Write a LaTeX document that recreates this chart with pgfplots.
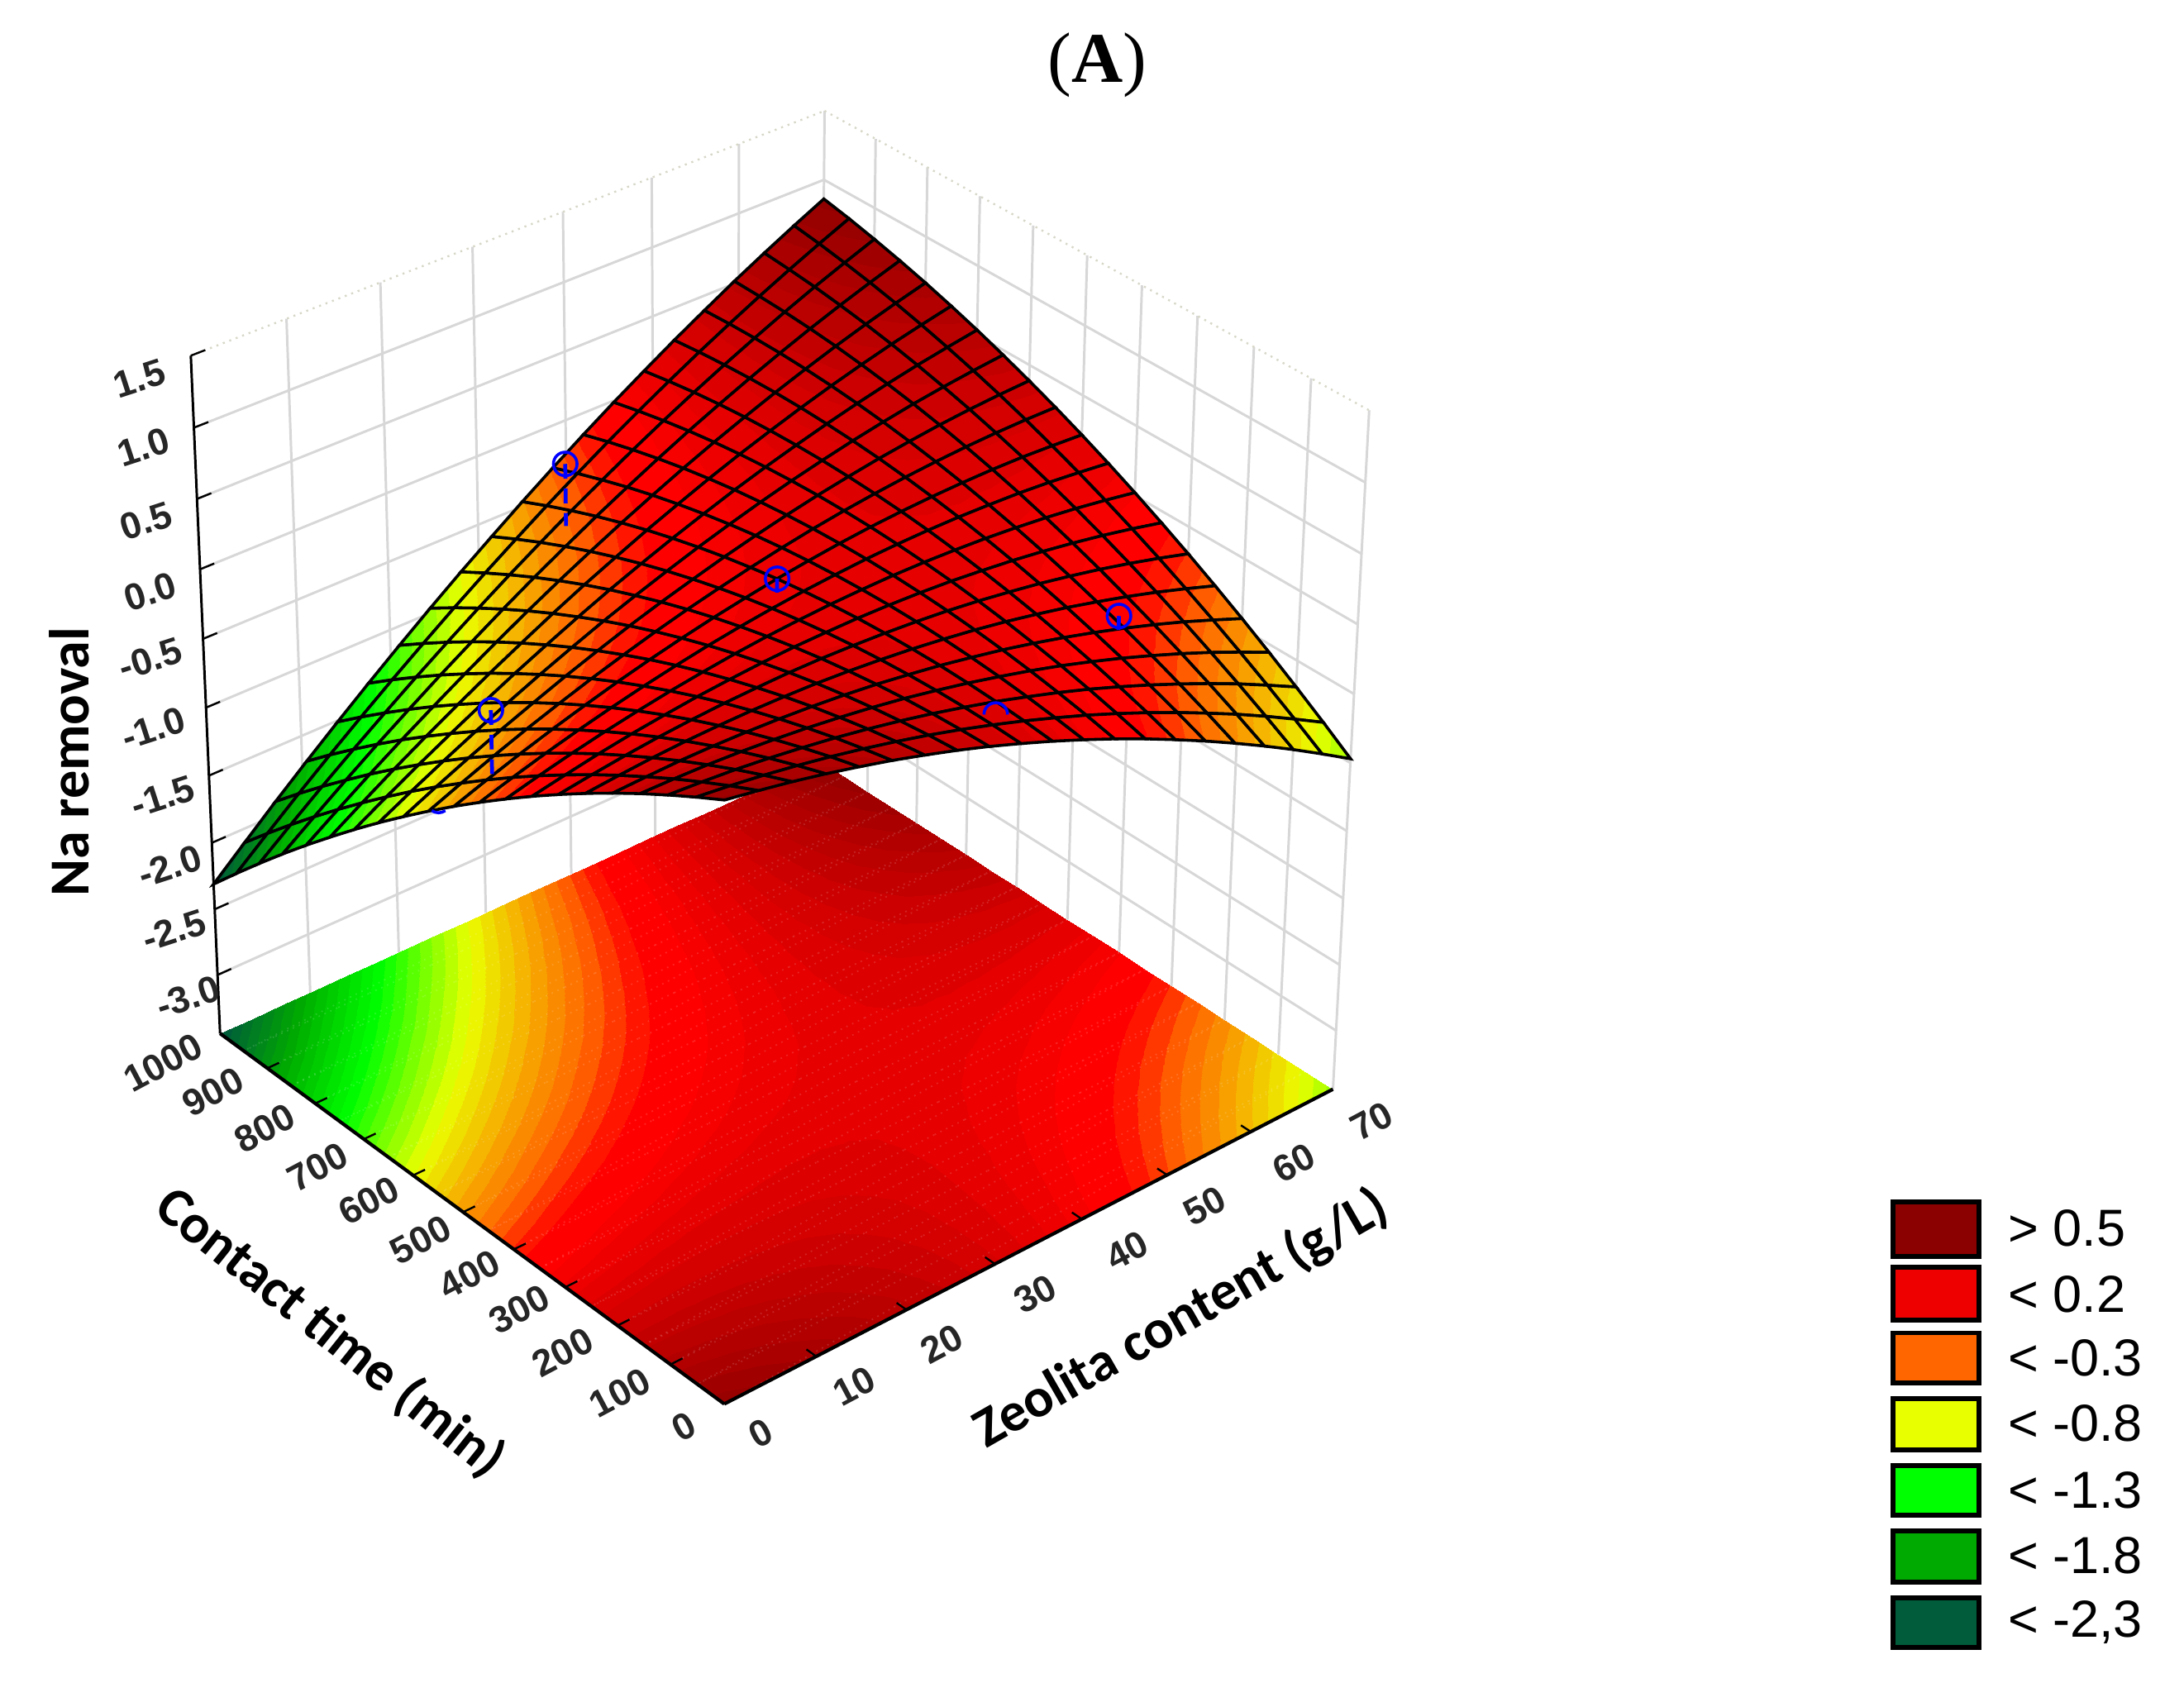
\documentclass[border=0pt]{standalone}
\usepackage{fontspec}
\setmainfont{Liberation Sans}
\newfontfamily\serifA{Liberation Serif}
\newfontfamily\calib{Carlito}
\usepackage{pgfplots}
\usepackage{pgfplotstable}
\pgfplotsset{compat=1.18}
% Response surface: Zeolita content (x), Contact time (y), Na removal (z)
\pgfplotstableread[row sep=crcr]{
x y z\\
0 1000 -2.310\\ 3.5 1000 -2.103\\ 7 1000 -1.899\\ 10.5 1000 -1.702\\ 14 1000 -1.510\\ 17.5 1000 -1.323\\ 21 1000 -1.141\\ 24.5 1000 -0.964\\ 28 1000 -0.792\\ 31.5 1000 -0.627\\ 35 1000 -0.465\\ 38.5 1000 -0.309\\ 42 1000 -0.158\\ 45.5 1000 -0.012\\ 49 1000 0.127\\ 52.5 1000 0.263\\ 56 1000 0.392\\ 59.5 1000 0.518\\ 63 1000 0.637\\ 66.5 1000 0.751\\ 70 1000 0.860\\
0 950 -2.103\\ 3.5 950 -1.908\\ 7 950 -1.716\\ 10.5 950 -1.531\\ 14 950 -1.352\\ 17.5 950 -1.177\\ 21 950 -1.008\\ 24.5 950 -0.843\\ 28 950 -0.684\\ 31.5 950 -0.531\\ 35 950 -0.381\\ 38.5 950 -0.238\\ 42 950 -0.099\\ 45.5 950 0.034\\ 49 950 0.161\\ 52.5 950 0.284\\ 56 950 0.401\\ 59.5 950 0.514\\ 63 950 0.621\\ 66.5 950 0.723\\ 70 950 0.820\\
0 900 -1.901\\ 3.5 900 -1.718\\ 7 900 -1.539\\ 10.5 900 -1.367\\ 14 900 -1.200\\ 17.5 900 -1.037\\ 21 900 -0.880\\ 24.5 900 -0.728\\ 28 900 -0.581\\ 31.5 900 -0.440\\ 35 900 -0.303\\ 38.5 900 -0.173\\ 42 900 -0.046\\ 45.5 900 0.075\\ 49 900 0.190\\ 52.5 900 0.300\\ 56 900 0.405\\ 59.5 900 0.506\\ 63 900 0.601\\ 66.5 900 0.689\\ 70 900 0.774\\
0 850 -1.704\\ 3.5 850 -1.534\\ 7 850 -1.368\\ 10.5 850 -1.207\\ 14 850 -1.053\\ 17.5 850 -0.902\\ 21 850 -0.758\\ 24.5 850 -0.618\\ 28 850 -0.483\\ 31.5 850 -0.355\\ 35 850 -0.230\\ 38.5 850 -0.112\\ 42 850 0.002\\ 45.5 850 0.111\\ 49 850 0.213\\ 52.5 850 0.311\\ 56 850 0.404\\ 59.5 850 0.492\\ 63 850 0.574\\ 66.5 850 0.651\\ 70 850 0.723\\
0 800 -1.513\\ 3.5 800 -1.355\\ 7 800 -1.201\\ 10.5 800 -1.053\\ 14 800 -0.911\\ 17.5 800 -0.773\\ 21 800 -0.641\\ 24.5 800 -0.513\\ 28 800 -0.391\\ 31.5 800 -0.275\\ 35 800 -0.163\\ 38.5 800 -0.057\\ 42 800 0.045\\ 45.5 800 0.141\\ 49 800 0.231\\ 52.5 800 0.317\\ 56 800 0.397\\ 59.5 800 0.473\\ 63 800 0.543\\ 66.5 800 0.607\\ 70 800 0.667\\
0 750 -1.328\\ 3.5 750 -1.182\\ 7 750 -1.040\\ 10.5 750 -0.905\\ 14 750 -0.775\\ 17.5 750 -0.649\\ 21 750 -0.530\\ 24.5 750 -0.414\\ 28 750 -0.304\\ 31.5 750 -0.201\\ 35 750 -0.101\\ 38.5 750 -0.008\\ 42 750 0.082\\ 45.5 750 0.166\\ 49 750 0.243\\ 52.5 750 0.317\\ 56 750 0.385\\ 59.5 750 0.448\\ 63 750 0.506\\ 66.5 750 0.557\\ 70 750 0.605\\
0 700 -1.147\\ 3.5 700 -1.014\\ 7 700 -0.885\\ 10.5 700 -0.762\\ 14 700 -0.644\\ 17.5 700 -0.531\\ 21 700 -0.424\\ 24.5 700 -0.321\\ 28 700 -0.223\\ 31.5 700 -0.132\\ 35 700 -0.045\\ 38.5 700 0.036\\ 42 700 0.114\\ 45.5 700 0.185\\ 49 700 0.250\\ 52.5 700 0.311\\ 56 700 0.367\\ 59.5 700 0.418\\ 63 700 0.463\\ 66.5 700 0.502\\ 70 700 0.538\\
0 650 -0.972\\ 3.5 650 -0.851\\ 7 650 -0.735\\ 10.5 650 -0.624\\ 14 650 -0.519\\ 17.5 650 -0.418\\ 21 650 -0.323\\ 24.5 650 -0.232\\ 28 650 -0.148\\ 31.5 650 -0.069\\ 35 650 0.006\\ 38.5 650 0.075\\ 42 650 0.140\\ 45.5 650 0.199\\ 49 650 0.252\\ 52.5 650 0.301\\ 56 650 0.344\\ 59.5 650 0.383\\ 63 650 0.415\\ 66.5 650 0.442\\ 70 650 0.465\\
0 600 -0.803\\ 3.5 600 -0.694\\ 7 600 -0.590\\ 10.5 600 -0.491\\ 14 600 -0.399\\ 17.5 600 -0.310\\ 21 600 -0.228\\ 24.5 600 -0.149\\ 28 600 -0.077\\ 31.5 600 -0.011\\ 35 600 0.052\\ 38.5 600 0.109\\ 42 600 0.161\\ 45.5 600 0.208\\ 49 600 0.248\\ 52.5 600 0.285\\ 56 600 0.315\\ 59.5 600 0.342\\ 63 600 0.362\\ 66.5 600 0.377\\ 70 600 0.387\\
0 550 -0.639\\ 3.5 550 -0.543\\ 7 550 -0.451\\ 10.5 550 -0.364\\ 14 550 -0.284\\ 17.5 550 -0.208\\ 21 550 -0.138\\ 24.5 550 -0.072\\ 28 550 -0.012\\ 31.5 550 0.042\\ 35 550 0.092\\ 38.5 550 0.137\\ 42 550 0.177\\ 45.5 550 0.211\\ 49 550 0.239\\ 52.5 550 0.263\\ 56 550 0.281\\ 59.5 550 0.295\\ 63 550 0.303\\ 66.5 550 0.306\\ 70 550 0.304\\
0 500 -0.480\\ 3.5 500 -0.396\\ 7 500 -0.317\\ 10.5 500 -0.243\\ 14 500 -0.175\\ 17.5 500 -0.111\\ 21 500 -0.053\\ 24.5 500 0.000\\ 28 500 0.048\\ 31.5 500 0.090\\ 35 500 0.128\\ 38.5 500 0.159\\ 42 500 0.187\\ 45.5 500 0.209\\ 49 500 0.225\\ 52.5 500 0.236\\ 56 500 0.242\\ 59.5 500 0.244\\ 63 500 0.240\\ 66.5 500 0.229\\ 70 500 0.215\\
0 450 -0.327\\ 3.5 450 -0.255\\ 7 450 -0.188\\ 10.5 450 -0.127\\ 14 450 -0.071\\ 17.5 450 -0.020\\ 21 450 0.026\\ 24.5 450 0.067\\ 28 450 0.102\\ 31.5 450 0.132\\ 35 450 0.157\\ 38.5 450 0.176\\ 42 450 0.192\\ 45.5 450 0.201\\ 49 450 0.205\\ 52.5 450 0.204\\ 56 450 0.197\\ 59.5 450 0.187\\ 63 450 0.170\\ 66.5 450 0.147\\ 70 450 0.121\\
0 400 -0.179\\ 3.5 400 -0.120\\ 7 400 -0.065\\ 10.5 400 -0.016\\ 14 400 0.027\\ 17.5 400 0.066\\ 21 400 0.099\\ 24.5 400 0.128\\ 28 400 0.151\\ 31.5 400 0.168\\ 35 400 0.181\\ 38.5 400 0.188\\ 42 400 0.191\\ 45.5 400 0.188\\ 49 400 0.179\\ 52.5 400 0.166\\ 56 400 0.147\\ 59.5 400 0.124\\ 63 400 0.095\\ 66.5 400 0.060\\ 70 400 0.021\\
0 350 -0.036\\ 3.5 350 0.010\\ 7 350 0.053\\ 10.5 350 0.090\\ 14 350 0.120\\ 17.5 350 0.147\\ 21 350 0.167\\ 24.5 350 0.184\\ 28 350 0.195\\ 31.5 350 0.199\\ 35 350 0.200\\ 38.5 350 0.195\\ 42 350 0.185\\ 45.5 350 0.170\\ 49 350 0.148\\ 52.5 350 0.123\\ 56 350 0.092\\ 59.5 350 0.056\\ 63 350 0.015\\ 66.5 350 -0.032\\ 70 350 -0.084\\
0 300 0.101\\ 3.5 300 0.135\\ 7 300 0.165\\ 10.5 300 0.190\\ 14 300 0.208\\ 17.5 300 0.222\\ 21 300 0.230\\ 24.5 300 0.235\\ 28 300 0.233\\ 31.5 300 0.225\\ 35 300 0.213\\ 38.5 300 0.196\\ 42 300 0.174\\ 45.5 300 0.146\\ 49 300 0.112\\ 52.5 300 0.075\\ 56 300 0.031\\ 59.5 300 -0.017\\ 63 300 -0.071\\ 66.5 300 -0.130\\ 70 300 -0.194\\
0 250 0.233\\ 3.5 250 0.254\\ 7 250 0.272\\ 10.5 250 0.284\\ 14 250 0.290\\ 17.5 250 0.292\\ 21 250 0.288\\ 24.5 250 0.280\\ 28 250 0.265\\ 31.5 250 0.245\\ 35 250 0.221\\ 38.5 250 0.191\\ 42 250 0.157\\ 45.5 250 0.117\\ 49 250 0.071\\ 52.5 250 0.021\\ 56 250 -0.036\\ 59.5 250 -0.096\\ 63 250 -0.162\\ 66.5 250 -0.234\\ 70 250 -0.310\\
0 200 0.359\\ 3.5 200 0.368\\ 7 200 0.374\\ 10.5 200 0.373\\ 14 200 0.367\\ 17.5 200 0.356\\ 21 200 0.340\\ 24.5 200 0.319\\ 28 200 0.293\\ 31.5 200 0.260\\ 35 200 0.224\\ 38.5 200 0.181\\ 42 200 0.135\\ 45.5 200 0.082\\ 49 200 0.024\\ 52.5 200 -0.039\\ 56 200 -0.107\\ 59.5 200 -0.180\\ 63 200 -0.258\\ 66.5 200 -0.343\\ 70 200 -0.431\\
0 150 0.480\\ 3.5 150 0.477\\ 7 150 0.470\\ 10.5 150 0.457\\ 14 150 0.438\\ 17.5 150 0.415\\ 21 150 0.386\\ 24.5 150 0.353\\ 28 150 0.315\\ 31.5 150 0.270\\ 35 150 0.221\\ 38.5 150 0.166\\ 42 150 0.107\\ 45.5 150 0.043\\ 49 150 -0.028\\ 52.5 150 -0.103\\ 56 150 -0.184\\ 59.5 150 -0.269\\ 63 150 -0.360\\ 66.5 150 -0.457\\ 70 150 -0.558\\
0 100 0.595\\ 3.5 100 0.580\\ 7 100 0.561\\ 10.5 100 0.535\\ 14 100 0.504\\ 17.5 100 0.469\\ 21 100 0.428\\ 24.5 100 0.382\\ 28 100 0.331\\ 31.5 100 0.274\\ 35 100 0.213\\ 38.5 100 0.145\\ 42 100 0.074\\ 45.5 100 -0.003\\ 49 100 -0.086\\ 52.5 100 -0.174\\ 56 100 -0.267\\ 59.5 100 -0.364\\ 63 100 -0.467\\ 66.5 100 -0.577\\ 70 100 -0.690\\
0 50 0.705\\ 3.5 50 0.678\\ 7 50 0.646\\ 10.5 50 0.608\\ 14 50 0.565\\ 17.5 50 0.517\\ 21 50 0.464\\ 24.5 50 0.406\\ 28 50 0.342\\ 31.5 50 0.273\\ 35 50 0.199\\ 38.5 50 0.119\\ 42 50 0.036\\ 45.5 50 -0.054\\ 49 50 -0.149\\ 52.5 50 -0.249\\ 56 50 -0.355\\ 59.5 50 -0.464\\ 63 50 -0.580\\ 66.5 50 -0.702\\ 70 50 -0.827\\
0 0 0.810\\ 3.5 0 0.770\\ 7 0 0.726\\ 10.5 0 0.676\\ 14 0 0.620\\ 17.5 0 0.560\\ 21 0 0.494\\ 24.5 0 0.424\\ 28 0 0.348\\ 31.5 0 0.266\\ 35 0 0.180\\ 38.5 0 0.088\\ 42 0 -0.008\\ 45.5 0 -0.110\\ 49 0 -0.218\\ 52.5 0 -0.330\\ 56 0 -0.448\\ 59.5 0 -0.570\\ 63 0 -0.698\\ 66.5 0 -0.832\\ 70 0 -0.970\\
}\surfdata
\pgfplotsset{
  /pgf/declare function={
    PX(\a,\b,\c)=(520+501.88*\a/70-350.26*\b/1000-30.72*(\c+3.45)/4.95)/(1+.0678*\a/70+.0743*\b/1000-.0595*(\c+3.45)/4.95);
    PY(\a,\b,\c)=(1008-172.98*\a/70-210.87*\b/1000-538*(\c+3.45)/4.95)/(1+.0678*\a/70+.0743*\b/1000-.0595*(\c+3.45)/4.95);
  },
  table/proj/.style={x expr={PX(\thisrow{x},\thisrow{y},\thisrow{z})},y expr={PY(\thisrow{x},\thisrow{y},\thisrow{z})}},
  table/projfloor/.style={x expr={PX(\thisrow{x},\thisrow{y},-3.45)},y expr={PY(\thisrow{x},\thisrow{y},-3.45)}},
  colormap={naraw}{rgb255(0cm)=(0,84,56) rgb255(2cm)=(0,92,58) rgb255(7cm)=(0,170,0) rgb255(12cm)=(0,255,0) rgb255(17cm)=(235,255,0) rgb255(22cm)=(255,102,0) rgb255(24cm)=(255,0,0) rgb255(25cm)=(255,0,0) rgb255(34cm)=(144,0,0)},
  colormap={nabands}{samples of colormap=(50 of naraw)},
  colormap={whitemap}{color=(white) color=(white)},
}
\definecolor{gridc}{RGB}{215,215,215}
\definecolor{dotc}{RGB}{215,215,200}
\definecolor{lega}{RGB}{139,0,0}\definecolor{legb}{RGB}{238,0,0}\definecolor{legc}{RGB}{255,102,0}\definecolor{legd}{RGB}{232,255,0}\definecolor{lege}{RGB}{0,255,0}\definecolor{legf}{RGB}{0,170,0}\definecolor{legg}{RGB}{0,92,58}
\newcommand\gseg[3][]{\addplot[mark=none,#1] table[proj,row sep=crcr]{x y z\\#2\\#3\\};}
\tikzset{tkl/.style={font=\fontsize{7.6}{8}\selectfont\bfseries,inner sep=0pt,color=black!85}}
\newcommand\tklab[4]{\node[tkl,rotate=#1] at (axis cs:#2,#3) {#4};}
\newcommand\legbox[5]{\draw[line width=1pt,fill=#1] (axis cs:1359,#2) rectangle (axis cs:1421,#3);
  \node[anchor=west,inner sep=0pt,font=\fontsize{10.6}{12}\selectfont] at (axis cs:1441,#4) {#5};}
\pgfdeclareplotmark{uparc}{\pgfpathmoveto{\pgfqpoint{\pgfplotmarksize}{0pt}}\pgfpatharc{0}{180}{\pgfplotmarksize}\pgfusepathqstroke}
\pgfdeclareplotmark{lowarc}{\pgfpathmoveto{\pgfpointpolar{-125}{\pgfplotmarksize}}\pgfpatharc{-125}{-55}{\pgfplotmarksize}\pgfusepathqstroke}
\begin{document}
\begin{tikzpicture}
\path[use as bounding box] (0,0) rectangle (444.5pt,342.45pt);
\begin{axis}[
  anchor=south west, at={(0,0)},
  scale only axis, width=444.5pt, height=342.45pt,
  xmin=0, xmax=1568, ymin=0, ymax=1208, y dir=reverse,
  hide axis, clip=false, enlargelimits=false,
  colormap name=nabands, point meta min=-2.5, point meta max=0.9,
]
% walls
\pgfplotsinvokeforeach{10,20,30,40,50,60}{\gseg[gridc,line width=.5pt]{#1 1000 -3.45}{#1 1000 1.5}}
\pgfplotsinvokeforeach{100,200,300,400,500,600,700,800,900}{\gseg[gridc,line width=.5pt]{70 #1 -3.45}{70 #1 1.5}}
\gseg[gridc,line width=.5pt]{70 1000 -3.45}{70 1000 1.5}
\gseg[gridc,line width=.5pt]{70 0 -3.45}{70 0 1.5}
\pgfplotsinvokeforeach{-3,-2.5,-2,-1.5,-1,-0.5,0,0.5,1}{
  \gseg[gridc,line width=.5pt]{0 1000 #1}{70 1000 #1}
  \gseg[gridc,line width=.5pt]{70 1000 #1}{70 0 #1}
}
\gseg[dotc,line width=.4pt,densely dotted]{0 1000 1.5}{70 1000 1.5}
\gseg[dotc,line width=.4pt,densely dotted]{70 1000 1.5}{70 0 1.5}
% floor contour
\addplot[surf,mark=none,shader=interp,colormap access=piecewise constant,z buffer=none,
  mesh/rows=21,mesh/cols=21,point meta=\thisrow{z}] table[projfloor] \surfdata;
\addplot[mesh,mark=none,colormap name=whitemap,opacity=.14,densely dotted,line width=.3pt,z buffer=none,
  mesh/rows=21,mesh/cols=21,point meta=\thisrow{z}] table[projfloor] \surfdata;
% surface
\addplot[surf,mark=none,shader=faceted interp,faceted color=black,line width=.6pt,colormap access=piecewise constant,z buffer=none,
  mesh/rows=21,mesh/cols=21,point meta=\thisrow{z}] table[proj] \surfdata;
% observation hidden behind the surface: only its lowest part shows
\addplot[only marks,mark=lowarc,mark size=2.4pt,blue,line width=.6pt] table[proj,row sep=crcr]{x y z\\0 530 -0.517\\};
% outline edges
\gseg[black,line width=.5pt]{0 1000 -3.45}{0 1000 1.5}
\gseg[black,line width=.7pt]{0 1000 -3.45}{0 0 -3.45}
\gseg[black,line width=.7pt]{0 0 -3.45}{70 0 -3.45}
\pgfplotsinvokeforeach{-3,-2.5,-2,-1.5,-1,-0.5,0,0.5,1,1.5}{\gseg[black,line width=.4pt]{0 1000 #1}{1.5 1000 #1}}
\pgfplotsinvokeforeach{10,20,30,40,50,60}{\gseg[black,line width=.4pt]{#1 0 -3.45}{#1 18 -3.45}}
\pgfplotsinvokeforeach{100,200,300,400,500,600,700,800,900}{\gseg[black,line width=.4pt]{0 #1 -3.45}{1.3 #1 -3.45}}
% observations
\gseg[blue,line width=.8pt,densely dashed]{33.25 880 0.129}{33.25 880 -0.322}
\gseg[blue,line width=.8pt,densely dashed]{3.5 490 0.117}{3.5 490 -0.370}
\gseg[blue,line width=.8pt,densely dashed]{35 500 0.128}{35 500 0.030}
\gseg[blue,line width=.8pt,densely dashed]{55.3 200 0.000}{55.3 200 -0.100}
\addplot[only marks,mark=o,mark size=2.4pt,mark options={fill=none,draw=blue},blue,line width=.6pt] table[proj,row sep=crcr]{x y z\\
33.25 880 0.129\\ 3.5 490 0.117\\ 35 500 0.128\\ 55.3 200 0.000\\};
\addplot[only marks,mark=uparc,mark size=2.4pt,blue,line width=.6pt] table[proj,row sep=crcr]{x y z\\35 100 0.122\\};
% tick labels
\tklab{18}{100}{272}{1.5}\tklab{18}{103}{321}{1.0}\tklab{18}{105}{374}{0.5}\tklab{18}{108}{425}{0.0}\tklab{18}{108}{473}{-0.5}
\tklab{18}{110}{523}{-1.0}\tklab{18}{117}{572}{-1.5}\tklab{18}{122}{622}{-2.0}\tklab{18}{125}{668}{-2.5}\tklab{18}{135}{716}{-3.0}
\tklab{28}{546}{1029}{0}\tklab{28}{613}{995}{10}\tklab{28}{676}{965}{20}\tklab{28}{743}{929}{30}
\tklab{28}{809}{898}{40}\tklab{28}{865}{866}{50}\tklab{28}{929}{835}{60}\tklab{28}{985}{805}{70}
\tklab{28}{491}{1024}{0}\tklab{28}{445}{1000}{100}\tklab{28}{404}{971}{200}\tklab{28}{373}{940}{300}\tklab{28}{337}{915}{400}\tklab{28}{302}{890}{500}
\tklab{28}{265}{862}{600}\tklab{28}{228}{838}{700}\tklab{28}{190}{810}{800}\tklab{28}{153}{784}{900}\tklab{28}{117}{763}{1000}
% titles
\node[font=\serifA\fontsize{14.5}{16}\selectfont] at (axis cs:788,47) {(\textbf{A})};
\node[font=\calib\bfseries\fontsize{11.5}{13}\selectfont,rotate=90] at (axis cs:50,547) {Na removal};
\node[font=\calib\bfseries\fontsize{11.25}{14}\selectfont,rotate=-38.6] at (axis cs:237,957) {Contact time (min)};
\node[font=\calib\bfseries\fontsize{11.25}{14}\selectfont,rotate=29.8] at (axis cs:848,947) {Zeolita content (g/L)};
% legend
\legbox{lega}{863}{902}{882}{> 0.5}
\legbox{legb}{910}{948}{929}{< 0.2}
\legbox{legc}{957}{993}{975}{< -0.3}
\legbox{legd}{1004}{1041}{1022}{< -0.8}
\legbox{lege}{1052}{1088}{1070}{< -1.3}
\legbox{legf}{1099}{1136}{1117}{< -1.8}
\legbox{legg}{1147}{1183}{1165}{< -2,3}
\end{axis}
\end{tikzpicture}
\end{document}
